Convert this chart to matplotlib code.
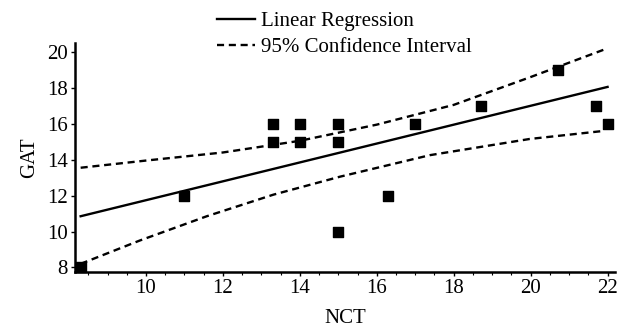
import numpy as np
import matplotlib.pyplot as plt
from matplotlib.ticker import MultipleLocator

plt.rcParams['font.family'] = ['Liberation Serif', 'DejaVu Serif']

# measured points
nct = [8.3, 11, 13.3, 13.3, 14, 14, 15, 15, 15, 16.3, 17, 18.7, 20.7, 21.7, 22]
gat = [8, 12, 16, 15, 16, 15, 16, 15, 10, 12, 16, 17, 19, 17, 16]

# regression line ends
reg_x = [8.3, 22]
reg_y = [10.85, 18.05]

# 95% confidence band
up_x = [8.3, 10, 12, 14, 16, 18, 20, 22]
ci_upper = [13.55, 13.95, 14.4, 15.05, 15.95, 17.05, 18.6, 20.2]
lo_x = [8.3, 9.84, 11.58, 13.31, 15.04, 17.38, 19.97, 21.9]
ci_lower = [8.2, 9.5, 10.85, 12.05, 13.05, 14.25, 15.15, 15.6]

fig = plt.figure(figsize=(6.24, 3.3), dpi=100)
ax = fig.add_axes([0.12, 0.176, 0.866, 0.694])

reg, = ax.plot(reg_x, reg_y, color='black', lw=1.7, label='Linear Regression')
ci, = ax.plot(up_x, ci_upper, color='black', lw=1.7, ls=(0, (3, 2)),
              label='95% Confidence Interval')
ax.plot(lo_x, ci_lower, color='black', lw=1.7, ls=(0, (3, 2)))
ax.scatter(nct, gat, marker='s', s=50, color='black', zorder=3, clip_on=False)

ax.set_xlim(8.15, 22.2)
ax.set_ylim(7.75, 20.5)
ax.xaxis.set_minor_locator(MultipleLocator(0.5))
ax.set_xticks(range(10, 23, 2))
ax.set_yticks(range(8, 21, 2))
ax.tick_params(axis='both', labelsize=15, length=3, width=1, pad=2)
ax.tick_params(axis='x', which='minor', length=2, width=0.8)

for s in ['top', 'right']:
    ax.spines[s].set_visible(False)
for s in ['left', 'bottom']:
    ax.spines[s].set_linewidth(1.8)

ax.set_xlabel('NCT', fontsize=15, labelpad=8)
ax.set_ylabel('GAT', fontsize=15, labelpad=6)

fig.legend(handles=[reg, ci], loc='upper left', bbox_to_anchor=(0.335, 0.99),
           frameon=False, fontsize=15, handlelength=1.8, handletextpad=0.3,
           labelspacing=0.3, borderaxespad=0)

fig.savefig('out.png', dpi=100)
